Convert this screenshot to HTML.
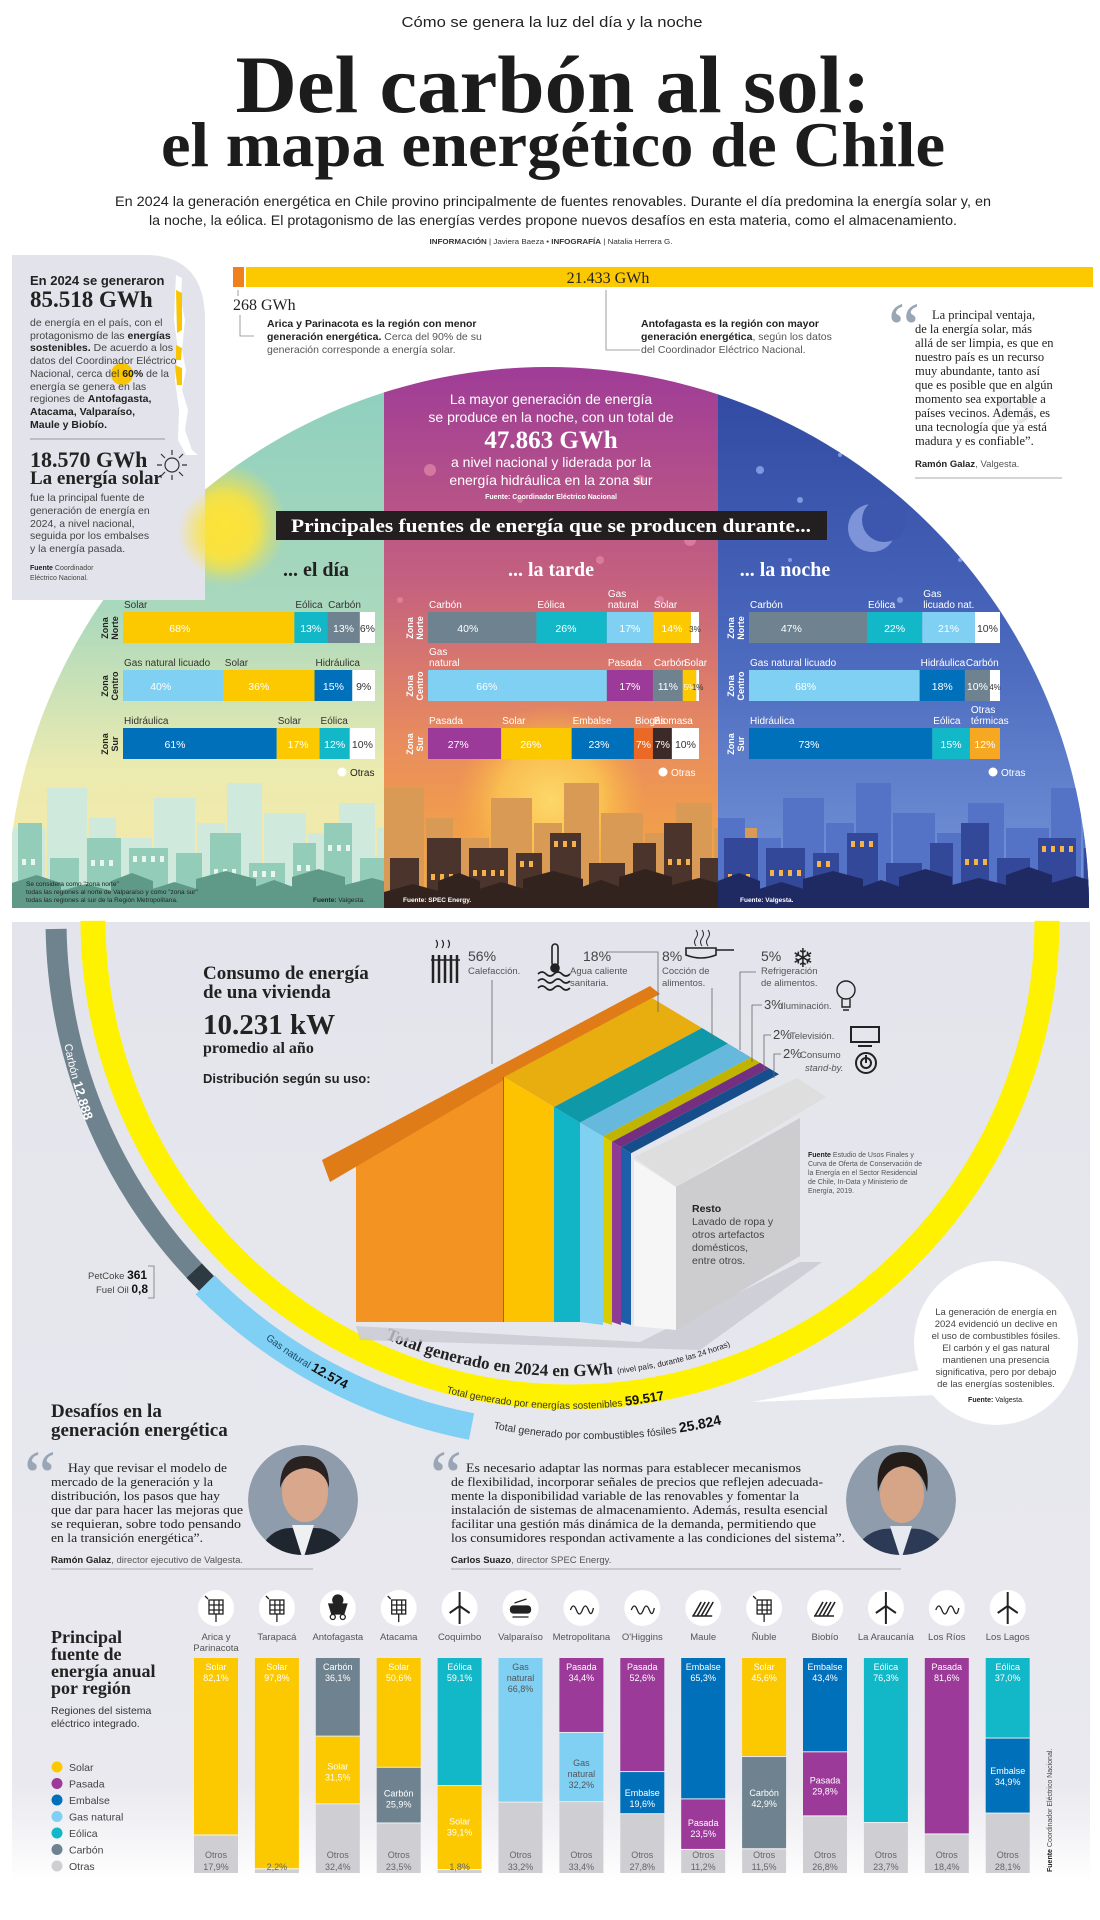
<!DOCTYPE html>
<html lang="es"><head><meta charset="utf-8"><title>Del carbón al sol</title>
<style>
html,body{margin:0;padding:0;background:#fff;}
svg{display:block;}
.sans{font-family:"Liberation Sans",sans-serif;}
.serif{font-family:"Liberation Serif",serif;}
</style></head>
<body>
<svg id="page" xmlns="http://www.w3.org/2000/svg" width="1100" height="1920" viewBox="0 0 1100 1920">
<defs>
<clipPath id="arcClip"><circle cx="548" cy="908" r="541"/></clipPath>
<clipPath id="colClip"><rect x="12" y="300" width="1078" height="608"/></clipPath>
<linearGradient id="gDay" x1="0" y1="0" x2="0" y2="1"><stop offset="0" stop-color="#8ccfbe"/><stop offset="0.45" stop-color="#a9d8bd"/><stop offset="0.75" stop-color="#ecebb0"/><stop offset="1" stop-color="#f7e7a6"/></linearGradient>
<linearGradient id="gTarde" x1="0" y1="0" x2="0" y2="1"><stop offset="0" stop-color="#9d3b98"/><stop offset="0.4" stop-color="#c4607f"/><stop offset="0.7" stop-color="#e98d5e"/><stop offset="1" stop-color="#f8ad3a"/></linearGradient>
<linearGradient id="gNoche" x1="0" y1="0" x2="0" y2="1"><stop offset="0" stop-color="#2f47a0"/><stop offset="0.5" stop-color="#4866bb"/><stop offset="1" stop-color="#7797da"/></linearGradient>
<radialGradient id="gSun"><stop offset="0" stop-color="#fde33a"/><stop offset="0.5" stop-color="#fde33a" stop-opacity="0.8"/><stop offset="1" stop-color="#fde33a" stop-opacity="0"/></radialGradient>
<radialGradient id="gSun2"><stop offset="0" stop-color="#fdd86a"/><stop offset="0.55" stop-color="#fcc850" stop-opacity="0.8"/><stop offset="1" stop-color="#fbb040" stop-opacity="0"/></radialGradient>
<linearGradient id="gSec2" x1="0" y1="0" x2="0" y2="1"><stop offset="0" stop-color="#e4e4ec"/><stop offset="0.9" stop-color="#e9e9ef"/><stop offset="1" stop-color="#ffffff"/></linearGradient>
<path id="pCarbon" d="M 56 930 A 514 514 0 0 0 110 1180"/>
<path id="pGas" d="M 220 1300 A 516 516 0 0 0 420 1420"/>
<path id="pTotal" d="M 330 1310 A 458 458 0 0 0 820 1300"/>
<path id="pSost" d="M 380 1370 A 484 484 0 0 0 760 1370"/>
<path id="pFos" d="M 440 1415 A 530 530 0 0 0 820 1390"/>
<clipPath id="ph1"><circle cx="303" cy="1500" r="55"/></clipPath>
<clipPath id="ph2"><circle cx="901" cy="1500" r="55"/></clipPath>
</defs>

<!-- HEADER -->
<g>
<text class="sans" x="552" y="27" font-size="15" text-anchor="middle" textLength="301" lengthAdjust="spacingAndGlyphs" fill="#222">Cómo se genera la luz del día y la noche</text>
<text class="serif" x="553" y="112" font-size="82" font-weight="bold" text-anchor="middle" textLength="635" lengthAdjust="spacingAndGlyphs" fill="#1c1c1c">Del carbón al sol:</text>
<text class="serif" x="553" y="166" font-size="64" font-weight="bold" text-anchor="middle" textLength="784" lengthAdjust="spacingAndGlyphs" fill="#1c1c1c">el mapa energético de Chile</text>
<text class="sans" x="553" y="206" font-size="14" text-anchor="middle" textLength="876" lengthAdjust="spacingAndGlyphs" fill="#222">En 2024 la generación energética en Chile provino principalmente de fuentes renovables. Durante el día predomina la energía solar y, en</text>
<text class="sans" x="553" y="225" font-size="14" text-anchor="middle" textLength="808" lengthAdjust="spacingAndGlyphs" fill="#222">la noche, la eólica. El protagonismo de las energías verdes propone nuevos desafíos en esta materia, como el almacenamiento.</text>
<text class="sans" x="551" y="244" font-size="7.5" text-anchor="middle" textLength="243" lengthAdjust="spacingAndGlyphs" fill="#333"><tspan font-weight="bold">INFORMACIÓN</tspan> | Javiera Baeza  •  <tspan font-weight="bold">INFOGRAFÍA</tspan> | Natalia Herrera G.</text>
</g>

<!-- ARC SECTION -->
<g>
<g clip-path="url(#arcClip)">
<g clip-path="url(#colClip)">
<rect x="12" y="360" width="372" height="548" fill="url(#gDay)"/>
<rect x="384" y="360" width="334" height="548" fill="url(#gTarde)"/>
<rect x="718" y="360" width="372" height="548" fill="url(#gNoche)"/>
<circle cx="225" cy="525" r="62" fill="url(#gSun)"/>
<circle cx="551" cy="800" r="95" fill="url(#gSun2)"/>
<g id="decor"></g>
<g id="skyline"></g>
</g></g>
<!-- moon -->
<circle cx="872" cy="528" r="24" fill="#7d94d8"/>
<circle cx="884" cy="520" r="22" fill="#3d57ae"/>
<!-- purple box text -->
<g class="sans" fill="#fff" text-anchor="middle">
<text x="551" y="404" font-size="14">La mayor generación de energía</text>
<text x="551" y="422" font-size="14">se produce en la noche, con un total de</text>
<text class="serif" x="551" y="448" font-size="25" font-weight="bold">47.863 GWh</text>
<text x="551" y="467" font-size="14">a nivel nacional y liderada por la</text>
<text x="551" y="485" font-size="14">energía hidráulica en la zona sur</text>
<text x="551" y="499" font-size="7" font-weight="bold">Fuente: Coordinador Eléctrico Nacional</text>
</g>
<rect x="276" y="511" width="551" height="29" fill="#231f20"/>
<text class="serif" x="551" y="532" font-size="19" font-weight="bold" fill="#fff" text-anchor="middle" textLength="520" lengthAdjust="spacingAndGlyphs">Principales fuentes de energía que se producen durante...</text>
<text class="serif" x="316" y="576" font-size="20" font-weight="bold" fill="#222" text-anchor="middle">... el día</text>
<text class="serif" x="551" y="576" font-size="20" font-weight="bold" fill="#fff" text-anchor="middle">... la tarde</text>
<text class="serif" x="785" y="576" font-size="20" font-weight="bold" fill="#fff" text-anchor="middle">... la noche</text>
<g id="zoneBars"></g>
<g class="sans" font-size="6.5" fill="#222">
<text x="26" y="886">Se considera como "zona norte"</text>
<text x="26" y="894">todas las regiones al norte de Valparaíso y como "zona sur"</text>
<text x="26" y="902">todas las regiones al sur de la Región Metropolitana.</text>
<text x="313" y="902" font-weight="bold">Fuente: <tspan font-weight="normal">Valgesta.</tspan></text>
<text x="403" y="902" fill="#fff" font-weight="bold">Fuente: SPEC Energy.</text>
<text x="740" y="902" fill="#fff" font-weight="bold">Fuente: Valgesta.</text>
</g>
</g>

<!-- LEFT BOX -->
<g>
<path d="M12 255 H150 Q205 258 205 320 V600 H12 Z" fill="#e3e3eb"/>
<path d="M176 275 L182 278 L181 300 L185 320 L182 350 L186 370 L182 390 L188 410 L185 430 L192 450 L198 455 L186 455 L178 440 L179 410 L175 380 L178 350 L174 320 L175 295 Z" fill="#fff"/>
<path d="M176 290 L182 293 L182 330 L177 333 Z M176 345 L182 348 L181 360 L176 360 Z M175 365 L182 368 L182 385 L177 385 Z" fill="#f9c400"/>
<circle cx="223" cy="532" r="45" fill="url(#gSun)" opacity="0.9"/>
<circle cx="122" cy="374" r="11" fill="#f9c400"/>
<text class="sans" x="30" y="285" font-size="13" font-weight="bold" fill="#222">En 2024 se generaron</text>
<text class="serif" x="30" y="307" font-size="23" font-weight="bold" fill="#222">85.518 GWh</text>
<g class="sans" font-size="10.5" fill="#444">
<text x="30" y="326">de energía en el país, con el</text>
<text x="30" y="339">protagonismo de las <tspan font-weight="bold" fill="#222">energías</tspan></text>
<text x="30" y="351"><tspan font-weight="bold" fill="#222">sostenibles.</tspan> De acuerdo a los</text>
<text x="30" y="364">datos del Coordinador Eléctrico</text>
<text x="30" y="377">Nacional, cerca del <tspan font-weight="bold" fill="#222">60%</tspan> de la</text>
<text x="30" y="390">energía se genera en las</text>
<text x="30" y="402">regiones de <tspan font-weight="bold" fill="#222">Antofagasta,</tspan></text>
<text x="30" y="415" font-weight="bold" fill="#222">Atacama, Valparaíso,</text>
<text x="30" y="428" font-weight="bold" fill="#222">Maule y Biobío.</text>
</g>
<line x1="30" y1="439" x2="165" y2="439" stroke="#999" stroke-width="1"/>
<text class="serif" x="30" y="467" font-size="22" font-weight="bold" fill="#222">18.570 GWh</text>
<text class="serif" x="30" y="484" font-size="19" font-weight="bold" fill="#222">La energía solar</text>
<g stroke="#333" stroke-width="1.2" fill="none"><circle cx="172" cy="465" r="7"/><path d="M172 450v5M172 475v5M157 465h5M182 465h5M161 454l4 4M179 472l4 4M183 454l-4 4M165 472l-4 4"/></g>
<g class="sans" font-size="10.5" fill="#444">
<text x="30" y="501">fue la principal fuente de</text>
<text x="30" y="514">generación de energía en</text>
<text x="30" y="527">2024, a nivel nacional,</text>
<text x="30" y="539">seguida por los embalses</text>
<text x="30" y="552">y la energía pasada.</text>
<text x="30" y="570" font-size="7"><tspan font-weight="bold" fill="#222">Fuente</tspan> Coordinador</text>
<text x="30" y="580" font-size="7">Eléctrico Nacional.</text>
</g>
</g>

<!-- TOP BAR -->
<g>
<rect x="233" y="267" width="11" height="20" fill="#f07f1e"/>
<rect x="246" y="267" width="847" height="20" fill="#fcc800"/>
<text class="serif" x="608" y="283" font-size="16" fill="#222" text-anchor="middle">21.433 GWh</text>
<text class="serif" x="233" y="310" font-size="16" fill="#222">268 GWh</text>
<path d="M238 290 V296 M240 315 V336 H254 M606 290 V350 H640" stroke="#888" stroke-width="0.8" fill="none"/>
<g class="sans" font-size="10.5" fill="#555">
<text x="267" y="327"><tspan font-weight="bold" fill="#222">Arica y Parinacota es la región con menor</tspan></text>
<text x="267" y="340"><tspan font-weight="bold" fill="#222">generación energética.</tspan> Cerca del 90% de su</text>
<text x="267" y="353">generación corresponde a energía solar.</text>
<text x="641" y="327"><tspan font-weight="bold" fill="#222">Antofagasta es la región con mayor</tspan></text>
<text x="641" y="340"><tspan font-weight="bold" fill="#222">generación energética</tspan>, según los datos</text>
<text x="641" y="353">del Coordinador Eléctrico Nacional.</text>
</g>
</g>

<!-- RIGHT QUOTE -->
<g>
<text class="serif" x="888" y="352" font-size="72" fill="#9aa6b6">“</text>
<text class="serif" x="990" y="470" font-size="110" fill="#e6e6ea">”</text>
<g class="serif" font-size="12.5" fill="#222">
<text x="932" y="319">La principal ventaja,</text>
<text x="915" y="333">de la energía solar, más</text>
<text x="915" y="347">allá de ser limpia, es que en</text>
<text x="915" y="361">nuestro país es un recurso</text>
<text x="915" y="375">muy abundante, tanto así</text>
<text x="915" y="389">que es posible que en algún</text>
<text x="915" y="403">momento sea exportable a</text>
<text x="915" y="417">países vecinos. Además, es</text>
<text x="915" y="431">una tecnología que ya está</text>
<text x="915" y="445">madura y es confiable”.</text>
</g>
<text class="sans" x="915" y="467" font-size="9.5" fill="#555"><tspan font-weight="bold" fill="#222">Ramón Galaz</tspan>, Valgesta.</text>
<line x1="915" y1="478" x2="1062" y2="478" stroke="#aaa"/>
</g>

<!-- SECTION 2 -->
<rect x="12" y="922" width="1078" height="960" fill="url(#gSec2)"/>
<g>
<path id="ringCarbon" fill="none" stroke="#6f838f" stroke-width="21"/>
<path id="ringPet" fill="none" stroke="#2e3a42" stroke-width="21"/>
<path id="ringGas" fill="none" stroke="#7fd0f4" stroke-width="27"/>
<path id="ringSolar" fill="none" stroke="#fff200" stroke-width="25"/>
<text class="sans" font-size="11" fill="#fff"><textPath href="#pCarbon" startOffset="115">Carbón <tspan font-weight="bold" font-size="13">12.888</tspan></textPath></text>
<text class="sans" font-size="10" fill="#1a4a6a"><textPath href="#pGas" startOffset="60">Gas natural <tspan font-weight="bold" font-size="13" fill="#111">12.574</tspan></textPath></text>
<text class="serif" font-size="17" font-weight="bold" fill="#222"><textPath href="#pTotal" startOffset="62">Total generado en 2024 en GWh <tspan font-size="8" font-weight="normal" class="sans">(nivel país, durante las 24 horas)</tspan></textPath></text>
<text class="sans" font-size="10" fill="#333"><textPath href="#pSost" startOffset="70">Total generado por energías sostenibles <tspan font-weight="bold" font-size="13" fill="#111">59.517</tspan></textPath></text>
<text class="sans" font-size="10.5" fill="#333"><textPath href="#pFos" startOffset="55">Total generado por combustibles fósiles <tspan font-weight="bold" font-size="14" fill="#111">25.824</tspan></textPath></text>
<g class="sans" font-size="9.5" fill="#444">
<text x="88" y="1279">PetCoke <tspan font-weight="bold" font-size="12" fill="#111">361</tspan></text>
<text x="96" y="1293">Fuel Oil <tspan font-weight="bold" font-size="12" fill="#111">0,8</tspan></text>
<path d="M148 1266 H154 V1298 H148" stroke="#777" fill="none" stroke-width="0.8"/>
</g>
</g>

<g>
<polygon points="356,1326 640,1342 800,1262 822,1262 700,1350 360,1340" fill="#c9c9d2" opacity="0.8"/>
<polygon points="356,1322 356,1152 504,1077 504,1322" fill="#f39422"/>
<polygon points="322,1160 650,986 660,994 504,1080 330,1182" fill="#e07c18"/>
<line x1="504" y1="1077" x2="504" y2="1322" stroke="#b35f10" stroke-width="2"/>
<g id="houseStrips"></g>
<polygon points="634,1157 797,1078 826,1097 676,1187" fill="#dededf"/>
<polygon points="634,1160 676,1187 676,1330 634,1326" fill="#f6f6f6"/>
<polygon points="676,1187 800,1118 800,1256 676,1330" fill="#cdcdcf"/>
<g class="sans" font-size="10.5" fill="#444">
<text x="692" y="1212" font-weight="bold" fill="#222">Resto</text>
<text x="692" y="1225">Lavado de ropa y</text>
<text x="692" y="1238">otros artefactos</text>
<text x="692" y="1251">domésticos,</text>
<text x="692" y="1264">entre otros.</text>
</g>
</g>

<g>
<text class="serif" x="203" y="979" font-size="19" font-weight="bold" fill="#222">Consumo de energía</text>
<text class="serif" x="203" y="998" font-size="19" font-weight="bold" fill="#222">de una vivienda</text>
<text class="serif" x="203" y="1034" font-size="29" font-weight="bold" fill="#222">10.231 kW</text>
<text class="serif" x="203" y="1053" font-size="16" font-weight="bold" fill="#222">promedio al año</text>
<text class="sans" x="203" y="1083" font-size="13" font-weight="bold" fill="#222">Distribución según su uso:</text>
</g>

<g class="sans" fill="#555" font-size="9.5">
<g stroke="#222" stroke-width="2.5" fill="none"><path d="M433 955v28M439 955v28M445 955v28M451 955v28M457 955v28"/><path d="M431 960h29" stroke-width="1.5"/><path d="M436 940q3 4 0 8M442 940q3 4 0 8M448 940q3 4 0 8" stroke-width="1.2"/></g>
<text x="468" y="961" font-size="14" fill="#444">56%</text><text x="468" y="974">Calefacción.</text>
<path d="M492 980 V1064" stroke="#666" stroke-width="0.8"/>
<g fill="none" stroke="#222" stroke-width="1.6"><rect x="552" y="944" width="6" height="22" rx="3"/><circle cx="555" cy="968" r="4" fill="#222"/><path d="M538 974q4-4 8 0t8 0t8 0t8 0M538 981q4-4 8 0t8 0t8 0t8 0M538 988q4-4 8 0t8 0t8 0t8 0"/></g>
<text x="583" y="961" font-size="14" fill="#444">18%</text><text x="570" y="974">Agua caliente</text><text x="570" y="986">sanitaria.</text>
<path d="M606 952 H658 V1012" stroke="#666" stroke-width="0.8" fill="none"/>
<text x="662" y="961" font-size="14" fill="#444">8%</text><text x="662" y="974">Cocción de</text><text x="662" y="986">alimentos.</text>
<g fill="none" stroke="#222" stroke-width="1.6"><path d="M686 948 h30 v7 q-15 6 -30 0 z M716 950 h18"/><path d="M696 930q3 4 0 8t0 8M702 930q3 4 0 8t0 8M708 930q3 4 0 8t0 8" stroke-width="1"/></g>
<path d="M712 988 V1040" stroke="#666" stroke-width="0.8"/>
<text x="761" y="961" font-size="14" fill="#444">5%</text><text x="761" y="974">Refrigeración</text><text x="761" y="986">de alimentos.</text>
<text x="792" y="967" font-size="26" fill="#222">❄</text>
<path d="M756 972 H740 V1050" stroke="#666" stroke-width="0.8" fill="none"/>
<g fill="none" stroke="#222" stroke-width="1.4"><circle cx="846" cy="990" r="9"/><path d="M842 999v8h8v-8M843 1010h6"/></g>
<text x="764" y="1009" font-size="13" fill="#444">3%</text><text x="781" y="1009">Iluminación.</text>
<path d="M762 1005 H752 V1062" stroke="#666" stroke-width="0.8" fill="none"/>
<g fill="none" stroke="#222" stroke-width="2"><rect x="851" y="1027" width="28" height="15"/><path d="M858 1046 h14"/></g>
<text x="773" y="1039" font-size="13" fill="#444">2%</text><text x="790" y="1039">Televisión.</text>
<path d="M771 1035 H764 V1070" stroke="#666" stroke-width="0.8" fill="none"/>
<g fill="none" stroke="#222" stroke-width="2"><circle cx="866" cy="1063" r="10"/><circle cx="866" cy="1063" r="5"/><path d="M866 1055v8"/></g>
<text x="783" y="1058" font-size="13" fill="#444">2%</text><text x="800" y="1058">Consumo</text><text x="805" y="1071" font-style="italic">stand-by.</text>
<path d="M781 1054 H774 V1078" stroke="#666" stroke-width="0.8" fill="none"/>
</g>
<g class="sans" font-size="7" fill="#555">
<text x="808" y="1157"><tspan font-weight="bold" fill="#222">Fuente</tspan> Estudio de Usos Finales y</text>
<text x="808" y="1166">Curva de Oferta de Conservación de</text>
<text x="808" y="1175">la Energía en el Sector Residencial</text>
<text x="808" y="1184">de Chile, In-Data y Ministerio de</text>
<text x="808" y="1193">Energía, 2019.</text>
</g>

<g>
<path d="M940 1395 L752 1402 L920 1370 Z" fill="#fff"/>
<circle cx="996" cy="1343" r="82" fill="#fff"/>
<g class="sans" font-size="9.5" fill="#444" text-anchor="middle">
<text x="996" y="1315">La generación de energía en</text>
<text x="996" y="1327">2024 evidenció un declive en</text>
<text x="996" y="1339">el uso de combustibles fósiles.</text>
<text x="996" y="1351">El carbón y el gas natural</text>
<text x="996" y="1363">mantienen una presencia</text>
<text x="996" y="1375">significativa, pero por debajo</text>
<text x="996" y="1387">de las energías sostenibles.</text>
<text x="996" y="1402" font-size="7" font-weight="bold" fill="#222">Fuente: <tspan font-weight="normal">Valgesta.</tspan></text>
</g>
</g>

<!-- CHALLENGES -->
<g>
<text class="serif" x="51" y="1417" font-size="19" font-weight="bold" fill="#222">Desafíos en la</text>
<text class="serif" x="51" y="1436" font-size="19" font-weight="bold" fill="#222">generación energética</text>
<text class="serif" x="24" y="1500" font-size="72" fill="#9aa6b6">“</text>
<text class="serif" x="430" y="1500" font-size="72" fill="#9aa6b6">“</text>
<g class="serif" font-size="12.5" fill="#222">
<text x="68" y="1472" textLength="159" lengthAdjust="spacingAndGlyphs">Hay que revisar el modelo de</text>
<text x="51" y="1486" textLength="162" lengthAdjust="spacingAndGlyphs">mercado de la generación y la</text>
<text x="51" y="1500" textLength="169" lengthAdjust="spacingAndGlyphs">distribución, los pasos que hay</text>
<text x="51" y="1514" textLength="192" lengthAdjust="spacingAndGlyphs">que dar para hacer las mejoras que</text>
<text x="51" y="1528" textLength="190" lengthAdjust="spacingAndGlyphs">se requieran, sobre todo pensando</text>
<text x="51" y="1542" textLength="152" lengthAdjust="spacingAndGlyphs">en la transición energética”.</text>
</g>
<text class="sans" x="51" y="1563" font-size="9.5" fill="#555"><tspan font-weight="bold" fill="#222">Ramón Galaz</tspan>, director ejecutivo de Valgesta.</text>
<line x1="51" y1="1569" x2="313" y2="1569" stroke="#aaa"/>
<g class="serif" font-size="12.5" fill="#222">
<text x="466" y="1472" textLength="335" lengthAdjust="spacingAndGlyphs">Es necesario adaptar las normas para establecer mecanismos</text>
<text x="451" y="1486" textLength="372" lengthAdjust="spacingAndGlyphs">de flexibilidad, incorporar señales de precios que reflejen adecuada-</text>
<text x="451" y="1500" textLength="348" lengthAdjust="spacingAndGlyphs">mente la disponibilidad variable de las renovables y fomentar la</text>
<text x="451" y="1514" textLength="377" lengthAdjust="spacingAndGlyphs">instalación de sistemas de almacenamiento. Además, resulta esencial</text>
<text x="451" y="1528" textLength="365" lengthAdjust="spacingAndGlyphs">facilitar una gestión más dinámica de la demanda, permitiendo que</text>
<text x="451" y="1542" textLength="394" lengthAdjust="spacingAndGlyphs">los consumidores respondan activamente a las condiciones del sistema”.</text>
</g>
<text class="sans" x="451" y="1563" font-size="9.5" fill="#555"><tspan font-weight="bold" fill="#222">Carlos Suazo</tspan>, director SPEC Energy.</text>
<line x1="451" y1="1569" x2="901" y2="1569" stroke="#aaa"/>
<g clip-path="url(#ph1)">
<circle cx="303" cy="1500" r="55" fill="#8f9cab"/>
<path d="M255 1560 Q270 1520 303 1530 Q336 1520 352 1560 Z" fill="#1f2630"/>
<path d="M292 1525 L303 1560 L314 1525 Z" fill="#eef0f2"/>
<ellipse cx="305" cy="1492" rx="23" ry="30" fill="#d9a88c"/>
<path d="M280 1488 Q280 1455 306 1456 Q330 1456 329 1488 Q325 1470 305 1468 Q286 1470 280 1488 Z" fill="#2a2220"/>
</g>
<g clip-path="url(#ph2)">
<circle cx="901" cy="1500" r="55" fill="#8f9cab"/>
<path d="M850 1560 Q865 1522 901 1530 Q937 1522 952 1560 Z" fill="#2c3a55"/>
<path d="M890 1526 L901 1560 L912 1526 Z" fill="#e6eaf0"/>
<ellipse cx="902" cy="1494" rx="22" ry="29" fill="#d6a487"/>
<path d="M878 1492 Q874 1452 903 1452 Q932 1452 927 1492 Q922 1468 903 1466 Q884 1468 878 1492 Z" fill="#231c18"/>
</g>
</g>

<!-- REGION CHART -->
<g>
<g class="serif" font-size="18" font-weight="bold" fill="#222">
<text x="51" y="1643">Principal</text>
<text x="51" y="1660">fuente de</text>
<text x="51" y="1677">energía anual</text>
<text x="51" y="1694">por región</text>
</g>
<text class="sans" x="51" y="1714" font-size="10.5" fill="#333">Regiones del sistema</text>
<text class="sans" x="51" y="1727" font-size="10.5" fill="#333">eléctrico integrado.</text>
</g>
<g id="legend"></g>
<g id="regionChart"></g>
<text class="sans" transform="translate(1052,1872) rotate(-90)" font-size="7" fill="#444"><tspan font-weight="bold" fill="#222">Fuente</tspan>   Coordinador Eléctrico Nacional.</text>
</svg>

<script>
// ===== Zone bar charts (day / evening / night) =====
const dayLabels = [['Solar','Eólica','Carbón','Otras'],['Gas natural licuado','Solar','Hidráulica','Otras'],['Hidráulica','Solar','Eólica','Otras']];
const dayValues = [[68,13,13,6],[40,36,15,9],[61,17,12,10]];
const eveLabels = [['Carbón','Eólica','Gas|natural','Solar','Otras'],['Gas|natural','Pasada','Carbón','Solar','Otras'],['Pasada','Solar','Embalse','Biogás','Biomasa','Otras']];
const eveValues = [[40,26,17,14,3],[66,17,11,5,1],[27,26,23,7,7,10]];
const nightLabels = [['Carbón','Eólica','Gas|licuado nat.','Otras'],['Gas natural licuado','Hidráulica','Carbón','Otras'],['Hidráulica','Eólica','Otras|térmicas']];
const nightValues = [[47,22,21,10],[68,18,10,4],[73,15,12]];
const zoneNames = [['Zona','Norte'],['Zona','Centro'],['Zona','Sur']];

const SVGNS = 'http://www.w3.org/2000/svg';
function mk(tag, attrs, parent) {
  const e = document.createElementNS(SVGNS, tag);
  for (const k in attrs) e.setAttribute(k, attrs[k]);
  if (parent) parent.appendChild(e);
  return e;
}
function colorOf(n) {
  const s = n.replace('|',' ');
  if (s.startsWith('Solar')) return '#fcc800';
  if (s.startsWith('Eólica')) return '#13b8c8';
  if (s.startsWith('Carbón')) return '#6e838f';
  if (s.startsWith('Gas')) return '#80d0f4';
  if (s.startsWith('Hidráulica') || s.startsWith('Embalse')) return '#0070bb';
  if (s.startsWith('Pasada')) return '#9b3a98';
  if (s.startsWith('Biogás')) return '#ea6a25';
  if (s.startsWith('Biomasa')) return '#3b2a27';
  if (s.startsWith('Otras térmicas')) return '#f7a823';
  return '#ffffff';
}
const zb = document.getElementById('zoneBars');
const cols = [
  {labels: dayLabels, values: dayValues, x0: 123, w: 252, zx: 112, txt: '#333', otras: 342},
  {labels: eveLabels, values: eveValues, x0: 428, w: 271, zx: 417, txt: '#fff', otras: 663},
  {labels: nightLabels, values: nightValues, x0: 749, w: 251, zx: 738, txt: '#fff', otras: 993}
];
const rowTops = [612, 670, 728];
const BAR_H = 31;
cols.forEach((c, ci) => {
  c.labels.forEach((row, ri) => {
    const vals = c.values[ri];
    const total = vals.reduce((a, b) => a + b, 0);
    const xs = v => v / total * c.w;
    let x = c.x0;
    const y = rowTops[ri];
    const zl = mk('text', {x: 0, y: 0, transform: 'translate(' + c.zx + ',' + (y + 16) + ') rotate(-90)', 'font-family': 'Liberation Sans, sans-serif', 'font-size': 9, 'font-weight': 'bold', fill: ci === 0 ? '#222' : '#fff', 'text-anchor': 'middle'}, zb);
    
    
    mk('tspan', {x: 0, dy: -4}, zl).textContent = zoneNames[ri][0];
    mk('tspan', {x: 0, dy: 10}, zl).textContent = zoneNames[ri][1];
    row.forEach((name, si) => {
      const w = xs(vals[si]);
      const r = mk('rect', {x: x, y: y, width: Math.max(w, 0.5), height: BAR_H, fill: colorOf(name)}, zb);
      
      
      const isOtras = name === 'Otras';
      const tx = w > 60 ? x + w * 0.27 : x + w / 2;
      const pt = mk('text', {x: tx, y: y + 20, 'font-family': 'Liberation Sans, sans-serif', 'font-size': w < 14 ? 8 : 10.5, fill: isOtras ? '#333' : '#fff', 'text-anchor': w > 60 ? 'start' : 'middle'}, zb);
      
      
      pt.textContent = vals[si] + '%';
      if (!isOtras) {
        const parts = name.split('|');
        parts.forEach((p, pi) => {
          const lt = mk('text', {x: x + 1, y: y - 4 - (parts.length - 1 - pi) * 11, 'font-family': 'Liberation Sans, sans-serif', 'font-size': 10, fill: c.txt}, zb);
          
          
          lt.textContent = p;
        });
      }
      x += w;
    });
  });
  const oc = mk('circle', {cx: c.otras, cy: 772, r: 4.5, fill: '#fff'}, zb);
  
  
  const ot = mk('text', {x: c.otras + 8, y: 776, 'font-family': 'Liberation Sans, sans-serif', 'font-size': 10, fill: ci === 0 ? '#222' : '#fff'}, zb);
  
  
  ot.textContent = 'Otras';
});

// ===== Decorative sky & skyline =====
const dec = document.getElementById('decor');
[[430,470,6],[470,520,4],[640,480,5],[600,560,4],[690,540,6],[520,500,3],[660,600,4],[400,600,3]].forEach(s => mk('circle', {cx: s[0], cy: s[1], r: s[2], fill: '#e38aa8', opacity: 0.7}, dec));
[[760,470,4],[800,500,3],[840,455,2],[930,480,3],[960,560,2],[790,560,2],[900,600,3],[1000,520,2],[740,520,2]].forEach(s => mk('circle', {cx: s[0], cy: s[1], r: s[2], fill: '#8aa4e6', opacity: 0.85}, dec));
const sk = document.getElementById('skyline');
function city(x0, x1, backC, midC, frontC, winC, seed) {
  let x = x0, i = seed;
  const hs = [95, 70, 110, 80, 60, 100, 75, 115, 85, 65];
  while (x < x1) { const w = 26 + (i * 7) % 20; const h = hs[i % hs.length]; mk('rect', {x: x, y: 908 - h - 10, width: w, height: h + 10, fill: backC}, sk); x += w + 2; i++; }
  x = x0 + 6; i = seed + 3;
  const hm = [55, 75, 45, 65, 85, 50, 70, 60];
  while (x < x1) {
    const w = 22 + (i * 5) % 18; const h = hm[i % hm.length];
    mk('rect', {x: x, y: 908 - h, width: w, height: h, fill: midC}, sk);
    for (let wy = 908 - h + 8; wy < 880; wy += 14) for (let wx = x + 4; wx < x + w - 5; wx += 9) if ((wx + wy + i) % 3 === 0) mk('rect', {x: wx, y: wy, width: 4, height: 6, fill: winC}, sk);
    x += w + 8; i++;
  }
  x = x0; i = seed;
  while (x < x1) { const w = 40 + (i * 9) % 25; const h = 22 + (i * 11) % 20; mk('path', {d: 'M' + x + ' 908 V' + (908 - h + 8) + ' L' + (x + w / 2) + ' ' + (908 - h) + ' L' + (x + w) + ' ' + (908 - h + 8) + ' V908 Z', fill: frontC}, sk); x += w - 4; i++; }
}
city(12, 384, '#cfeadc', '#93ccb8', '#5f9a88', '#e8f6ee', 1);
city(384, 718, '#d99a55', '#4a342c', '#33231e', '#f6b24a', 2);
city(718, 1090, '#5472c6', '#34489a', '#1f2a62', '#f5b34a', 3);

// ===== Rings =====
function arcPath(cx, cy, r, a1, a2) {
  const p = a => [cx + r * Math.cos(a * Math.PI / 180), cy + r * Math.sin(a * Math.PI / 180)];
  const s = p(a1), e = p(a2);
  const large = Math.abs(a2 - a1) > 180 ? 1 : 0;
  const sweep = a2 < a1 ? 0 : 1;
  return 'M' + s[0] + ' ' + s[1] + ' A' + r + ' ' + r + ' 0 ' + large + ' ' + sweep + ' ' + e[0] + ' ' + e[1];
}
document.getElementById('ringCarbon').setAttribute('d', arcPath(570, 920, 514, 179, 137));
document.getElementById('ringPet').setAttribute('d', arcPath(570, 920, 514, 137, 135));
document.getElementById('ringGas').setAttribute('d', arcPath(570, 920, 516, 135, 101));
document.getElementById('ringSolar').setAttribute('d', arcPath(570, 920, 477, 179.9, 0.1));

// ===== House strips =====
const hs = document.getElementById('houseStrips');
const stripX = [504, 554, 580, 603, 612, 621, 631];
const stripFront = ['#fdc300', '#12b5c5', '#80d0f2', '#d9cc00', '#8e3b96', '#1c5fa8'];
const stripTop = ['#e8ae10', '#0f98a8', '#66b8dc', '#c0b400', '#752f80', '#164e8c'];
const D = [148, -79];
for (let i = 0; i < stripFront.length; i++) {
  const ax = stripX[i], bx = stripX[i + 1];
  const ay = 1077 + 0.6 * (ax - 504), by = 1077 + 0.6 * (bx - 504);
  mk('polygon', {points: [ax, ay, bx, by, bx + D[0], by + D[1], ax + D[0], ay + D[1]].join(','), fill: stripTop[i]}, hs);
  const f = mk('polygon', {points: [ax, ay, bx, by, bx, 1322 + (i > 1 ? 3 : 0), ax, 1322].join(','), fill: stripFront[i]}, hs);
  
  
}

// ===== Region chart =====
const regions = ['Arica y|Parinacota','Tarapacá','Antofagasta','Atacama','Coquimbo','Valparaíso','Metropolitana',"O'Higgins",'Maule','Ñuble','Biobío','La Araucanía','Los Ríos','Los Lagos'];
const mainSource = ['Solar','Solar','Carbón','Solar','Eólica','Gas|natural','Pasada','Pasada','Embalse','Solar','Embalse','Eólica','Pasada','Eólica'];
const mainValue = [82.1,97.8,36.1,50.6,59.1,66.8,34.4,52.6,65.3,45.6,43.4,76.3,81.6,37.0];
const secondSource = ['','','Solar','Carbón','Solar','','Gas|natural','Embalse','Pasada','Carbón','Pasada','','','Embalse'];
const secondValue = [0,0,31.5,25.9,39.1,0,32.2,19.6,23.5,42.9,29.8,0,0,34.9];
const otrosValue = [17.9,2.2,32.4,23.5,1.8,33.2,33.4,27.8,11.2,11.5,26.8,23.7,18.4,28.1];
const iconType = ['solar','solar','coal','solar','wind','gas','water','water','dam','solar','dam','wind','water','wind'];
const legendNames = ['Solar','Pasada','Embalse','Gas natural','Eólica','Carbón','Otras'];
const legendColors = ['#fcc800','#9b3a98','#0070bb','#80d0f4','#13b8c8','#6e838f','#cfcfd3'];

const chartTop = 1658, chartBottom = 1873, barX0 = 194, barStep = 60.9, barW = 44;
const yScale = v => v / 100 * (chartBottom - chartTop);
const xBand = i => barX0 + i * barStep;
const rc = document.getElementById('regionChart');
function segText(cx, y, name, val, color) {
  const parts = name.split('|');
  parts.forEach((p, pi) => {
    const t = mk('text', {x: cx, y: y + pi * 11, 'font-family': 'Liberation Sans, sans-serif', 'font-size': 9, fill: color, 'text-anchor': 'middle'}, rc);
    
    
    t.textContent = p;
  });
  const v = mk('text', {x: cx, y: y + parts.length * 11, 'font-family': 'Liberation Sans, sans-serif', 'font-size': 9, fill: color, 'text-anchor': 'middle'}, rc);
  
  
  v.textContent = val.toFixed(1).replace('.', ',') + '%';
}
function segColor(n) { const i = legendNames.indexOf(n.replace('|', ' ')); return i >= 0 ? legendColors[i] : '#ccc'; }
regions.forEach((reg, i) => {
  const x = xBand(i), cx = x + barW / 2;
  const ic = mk('circle', {cx: cx, cy: 1608, r: 18, fill: '#fff'}, rc);
  
  
  const g = mk('g', {stroke: '#222', fill: 'none', 'stroke-width': 1.3}, rc);
  const t = iconType[i];
  if (t === 'solar') { mk('rect', {x: cx - 7, y: 1600, width: 14, height: 14}, g); mk('path', {d: 'M' + (cx - 7) + ' 1605h14M' + (cx - 7) + ' 1610h14M' + (cx - 2) + ' 1600v14M' + (cx + 3) + ' 1600v14M' + cx + ' 1614v8M' + (cx - 11) + ' 1596l3 3'}, g); }
  else if (t === 'wind') { mk('path', {d: 'M' + cx + ' 1606v18M' + cx + ' 1606l0-14M' + cx + ' 1606l-10 7M' + cx + ' 1606l10 7', 'stroke-width': 2}, g); }
  else if (t === 'coal') { mk('path', {d: 'M' + (cx - 9) + ' 1604h18l-3 10h-12z', fill: '#222'}, g); mk('circle', {cx: cx, cy: 1600, r: 5, fill: '#222'}, g); mk('circle', {cx: cx - 5, cy: 1617, r: 2.5}, g); mk('circle', {cx: cx + 5, cy: 1617, r: 2.5}, g); }
  else if (t === 'gas') { mk('rect', {x: cx - 10, y: 1606, width: 20, height: 7, rx: 3, fill: '#222'}, g); mk('path', {d: 'M' + (cx - 6) + ' 1603l12-4M' + (cx - 8) + ' 1617h16'}, g); }
  else if (t === 'water') { mk('path', {d: 'M' + (cx - 11) + ' 1610q3-8 6 0t6 0t6 0t5-2'}, g); }
  else { mk('path', {d: 'M' + (cx - 10) + ' 1616l8-14M' + (cx - 6) + ' 1616l8-14M' + (cx - 2) + ' 1616l8-14M' + (cx + 2) + ' 1616l8-14M' + (cx - 11) + ' 1616h20', 'stroke-width': 1.6}, g); }
  reg.split('|').forEach((p, pi) => {
    const lt = mk('text', {x: cx, y: 1640 + pi * 11, 'font-family': 'Liberation Sans, sans-serif', 'font-size': 9.5, fill: '#555', 'text-anchor': 'middle'}, rc);
    
    
    lt.textContent = p;
  });
  let y = chartTop;
  const h1 = yScale(mainValue[i]);
  const r1 = mk('rect', {x: x, y: y, width: barW, height: h1, fill: segColor(mainSource[i])}, rc);
  
  
  const dark1 = mainSource[i].startsWith('Gas') ? '#555' : '#fff';
  segText(cx, y + 12, mainSource[i], mainValue[i], dark1);
  y += h1;
  if (secondValue[i] > 0) {
    const h2 = yScale(secondValue[i]);
    const r2 = mk('rect', {x: x, y: y + 1, width: barW, height: h2 - 1, fill: segColor(secondSource[i])}, rc);
    
    
    const dark2 = secondSource[i].startsWith('Gas') ? '#555' : '#fff';
    segText(cx, y + Math.min(h2 * 0.35, 30) + 10, secondSource[i], secondValue[i], dark2);
    y += h2;
  }
  const h3 = yScale(otrosValue[i]);
  const r3 = mk('rect', {x: x, y: y + 1, width: barW, height: Math.max(h3 - 1, 1), fill: '#cfcfd3'}, rc);
  
  
  if (otrosValue[i] > 5) {
    const ot = mk('text', {x: cx, y: chartBottom - 15, 'font-family': 'Liberation Sans, sans-serif', 'font-size': 9, fill: '#666', 'text-anchor': 'middle'}, rc);
    
    
    ot.textContent = 'Otros';
  }
  const ov = mk('text', {x: cx, y: chartBottom - 3, 'font-family': 'Liberation Sans, sans-serif', 'font-size': 9, fill: '#666', 'text-anchor': 'middle'}, rc);
  
  
  ov.textContent = otrosValue[i].toFixed(1).replace('.', ',') + '%';
});
const lg = document.getElementById('legend');
legendNames.forEach((n, i) => {
  const c = mk('circle', {cx: 57, cy: 1767 + i * 16.5, r: 5.5, fill: legendColors[i]}, lg);
  
  
  const t = mk('text', {x: 69, y: 1771 + i * 16.5, 'font-family': 'Liberation Sans, sans-serif', 'font-size': 10.5, fill: '#444'}, lg);
  
  
  t.textContent = n;
});
</script>
</body></html>
